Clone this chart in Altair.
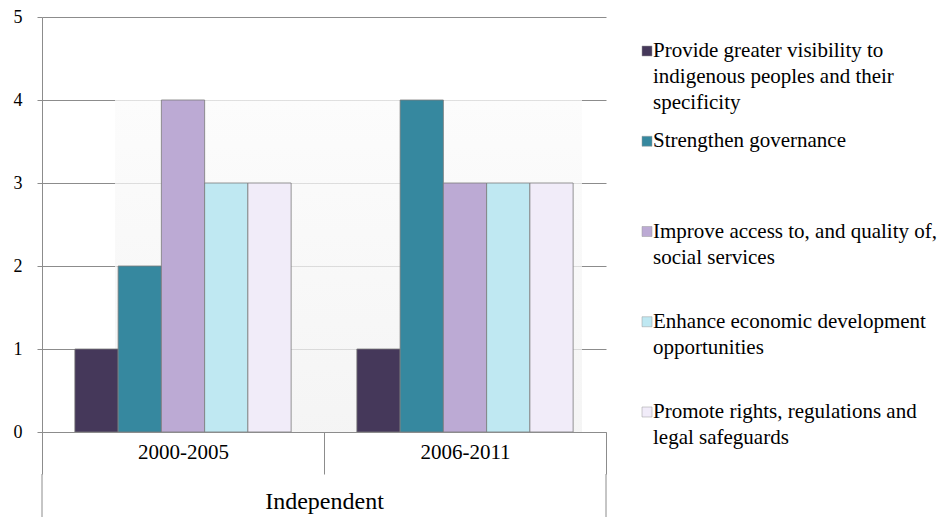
import altair as alt
import pandas as pd

FONT = "'Liberation Serif', 'Times New Roman', serif"
GRAY = "#8c8c8c"

groups = ["2000-2005", "2006-2011"]
series = [
    "Provide greater visibility to indigenous peoples and their specificity",
    "Strengthen governance",
    "Improve access to, and quality of, social services",
    "Enhance economic development opportunities",
    "Promote rights, regulations and legal safeguards",
]
legend_lines = [
    "Provide greater visibility to|indigenous peoples and their|specificity",
    "Strengthen governance",
    "Improve access to, and quality of,|social services",
    "Enhance economic development|opportunities",
    "Promote rights, regulations and|legal safeguards",
]
values_2000_2005 = [1, 2, 4, 3, 3]
values_2006_2011 = [1, 4, 3, 3, 3]
colors = ["#45385a", "#36889f", "#bcaad4", "#bfe8f2", "#f1ecf9"]
axis_title = "Independent"
y_ticks = [0, 1, 2, 3, 4, 5]

rows = []
for g, vals in zip(groups, [values_2000_2005, values_2006_2011]):
    for s, v in zip(series, vals):
        rows.append({"group": g, "series": s, "value": v})
df = pd.DataFrame(rows)

color_scale = alt.Scale(domain=series, range=colors)

x_axis = alt.Axis(
    labelAngle=0, labelAlign="center", tickBand="extent", tickSize=42, tickColor=GRAY, domainColor=GRAY,
    labelPadding=-22, labelFontSize=21, titleFontSize=24, titlePadding=15,
    labelColor="black", titleColor="black", titleFontWeight="normal", grid=False,
    labelFont=FONT, titleFont=FONT,
)
x_scale = alt.Scale(paddingInner=0, paddingOuter=0)

# soft back-wall shadow behind the bars (offset from the group centres)
shadow_df = pd.DataFrame({"group": [groups[0]], "end": [groups[-1]]})
shadow = alt.Chart(shadow_df).mark_rect(
    color=alt.Gradient(
        gradient="linear",
        stops=[alt.GradientStop(color="#fbfbfb", offset=0), alt.GradientStop(color="#f1f1f1", offset=1)],
        x1=0, x2=0, y1=0, y2=1,
    ),
    opacity=0.75,
    xOffset=-68,
    x2Offset=117,
).encode(
    x=alt.X("group:N", sort=groups, title=axis_title, bandPosition=0.5),
    x2=alt.X2("end", bandPosition=0.5),
    y=alt.datum(max(values_2000_2005 + values_2006_2011)),
    y2=alt.datum(0),
)

bars = alt.Chart(df).mark_bar(stroke="#7a7a7a", strokeWidth=1, strokeOpacity=0.8).encode(
    x=alt.X("group:N", sort=groups, title=axis_title, scale=x_scale, axis=x_axis),
    xOffset=alt.XOffset("series:N", sort=series, scale=alt.Scale(paddingOuter=0.76, paddingInner=0)),
    y=alt.Y(
        "value:Q",
        scale=alt.Scale(domain=[0, 5]),
        axis=alt.Axis(
            values=y_ticks, format="d", title=None, grid=True, gridColor=GRAY, domainColor=GRAY,
            tickColor=GRAY, tickSize=5, labelPadding=15, labelFontSize=18,
            labelColor="black", labelFont=FONT,
        ),
    ),
    color=alt.Color("series:N", sort=series, scale=color_scale, legend=None),
)

rule_left = alt.Chart(pd.DataFrame({"group": [groups[0]]})).mark_rule(color=GRAY).encode(
    x=alt.X("group:N", sort=groups, title=axis_title, bandPosition=0),
    y=alt.value(457),
    y2=alt.value(500),
)
rule_right = alt.Chart(pd.DataFrame({"group": [groups[-1]]})).mark_rule(color=GRAY).encode(
    x=alt.X("group:N", sort=groups, title=axis_title, bandPosition=1),
    y=alt.value(457),
    y2=alt.value(500),
)

main = alt.layer(shadow, bars, rule_left, rule_right).properties(width=564, height=415)

leg_df = pd.DataFrame({"series": series, "text": legend_lines})
ly = alt.Y("series:N", sort=series, axis=None,
           scale=alt.Scale(type="point", padding=0, range=[34, 395]))
sq = alt.Chart(leg_df).mark_square(size=100, opacity=1, stroke="#999999", strokeWidth=0.5).encode(
    x=alt.value(10),
    y=ly,
    color=alt.Color("series:N", sort=series, scale=color_scale, legend=None),
)
tx = alt.Chart(leg_df).mark_text(
    align="left", baseline="middle", lineBreak="|", lineHeight=26, fontSize=21, font=FONT, color="black"
).encode(x=alt.value(16), y=ly, text="text:N")
legend = alt.layer(sq, tx).properties(width=270, height=415)

chart = (
    alt.hconcat(main, legend, spacing=30)
    .properties(padding={"left": 5, "top": 0, "right": 0, "bottom": 0})
    .configure(font=FONT)
    .configure_view(stroke=None)
)

chart.save("out.html", embed_options={"renderer": "svg", "actions": False})
